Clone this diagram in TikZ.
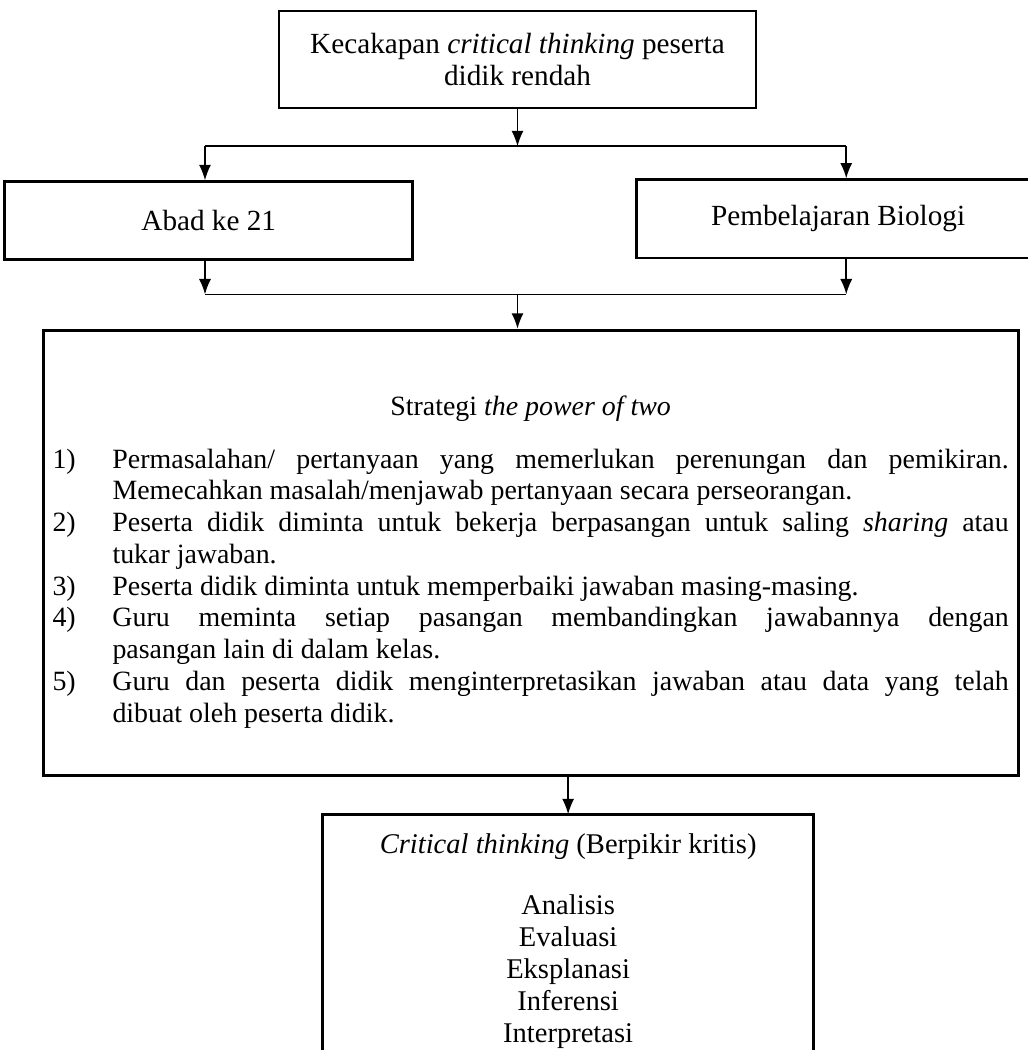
\documentclass[tikz,border=0pt]{standalone}
\usepackage{fontspec}
\setmainfont{Liberation Serif}
\usepackage{tikz}
\usetikzlibrary{arrows.meta}
\usetikzlibrary{shapes}
\tikzstyle{kotak}=[
   rectangle,
   line width=1.3pt,
   draw=black,
   align=center,
   inner sep=2pt,
   font=\fontsize{13.3}{14.6}\selectfont
]
\tikzstyle{terbuka}=[
   rectangle,
   align=center,
   inner sep=2pt,
   font=\fontsize{13}{14.6}\selectfont
]
\tikzstyle{garis}=[
   line width=0.7pt,
   draw=black
]
\newcommand{\butir}[2]{\par\noindent\hangindent=0.96cm\hangafter=1%
   \makebox[0.96cm][l]{#1}#2\par}

\begin{document}
\begin{tikzpicture}[
         >={Latex[length=7pt,width=5.5pt]},
         node distance=2cm,
         font=\fontsize{12}{14.6}\selectfont
      ]
      \useasboundingbox (0,0) rectangle (16.448,-16.8);

      \node (0) [kotak, minimum width=7.63cm, minimum height=1.55cm] at (8.28,-0.952) {
         Kecakapan \textit{critical thinking} peserta
         \\didik rendah
      };
      \node (1) [kotak, below of=0, xshift=-4.94cm, yshift=-0.58cm,
                 minimum width=6.53cm, minimum height=1.25cm] {Abad ke 21};
      \node (2) [kotak, below of=0, xshift=5.13cm, yshift=-0.55cm,
                 minimum width=6.46cm, minimum height=1.25cm] {Pembelajaran Biologi};

      \node (3) [kotak, below of=0, xshift=0.21cm, yshift=-5.89cm,
                 minimum width=15.6cm, minimum height=7.12cm,
                 text width=15.3cm, align=justify,
                 font=\fontsize{12.7}{14.45}\selectfont] {
         \centerline{Strategi \textit{the power of two}}\par\vspace{0.34cm}
         \butir{1)}{Permasalahan/ pertanyaan yang memerlukan perenungan dan pemikiran.\linebreak
            Memecahkan masalah/menjawab pertanyaan secara perseorangan.}
         \butir{2)}{Peserta didik diminta untuk bekerja berpasangan untuk saling \textit{sharing} atau\linebreak
            tukar jawaban.}
         \butir{3)}{Peserta didik diminta untuk memperbaiki jawaban masing-masing.}
         \butir{4)}{Guru meminta setiap pasangan membandingkan jawabannya dengan\linebreak
            pasangan lain di dalam kelas.}
         \butir{5)}{Guru dan peserta didik menginterpretasikan jawaban atau data yang telah\linebreak
            dibuat oleh peserta didik.}
         \vspace{-0.29cm}\hrule height 0pt
      };

      \node (4) [terbuka, below of=3, xshift=0.6cm, yshift=-4.10cm,
                 minimum width=7.84cm, minimum height=3.79cm] {
         \rule{0pt}{0.55cm}\textit{Critical thinking} (Berpikir kritis)
         \\[0.46cm]Analisis
         \\Evaluasi
         \\Eksplanasi
         \\Inferensi
         \\Interpretasi
      };
      \draw[line width=1.3pt] (4.south west) -- (4.north west) -- (4.north east) -- (4.south east);

      % cabang atas
      \coordinate (a) at ([yshift=-0.59cm]0.south);
      \coordinate (al) at ([xshift=-0.06cm]1.north |- a);
      \coordinate (ar) at ([xshift=0.13cm]2.north |- a);
      % cabang bawah
      \coordinate (b) at ([yshift=-0.53cm]1.south);
      \coordinate (br) at ([xshift=0.13cm]2.south |- b);

      \draw[garis, ->] (0.south) -- (a);
      \draw[garis] (al) -- (ar);
      \draw[garis, ->] (al) -- (al |- 1.north);
      \draw[garis, ->] (ar) -- (ar |- 2.north);

      \draw[garis, ->] (al |- 1.south) -- (b -| al);
      \draw[garis, ->] (br |- 2.south) -- (br);
      \draw[garis] (b -| al) -- (br);
      \draw[garis, ->] (b -| 0) -- (0 |- 3.north);

      \draw[garis, ->] (4.north |- 3.south) -- (4.north);

   \end{tikzpicture}
\end{document}
